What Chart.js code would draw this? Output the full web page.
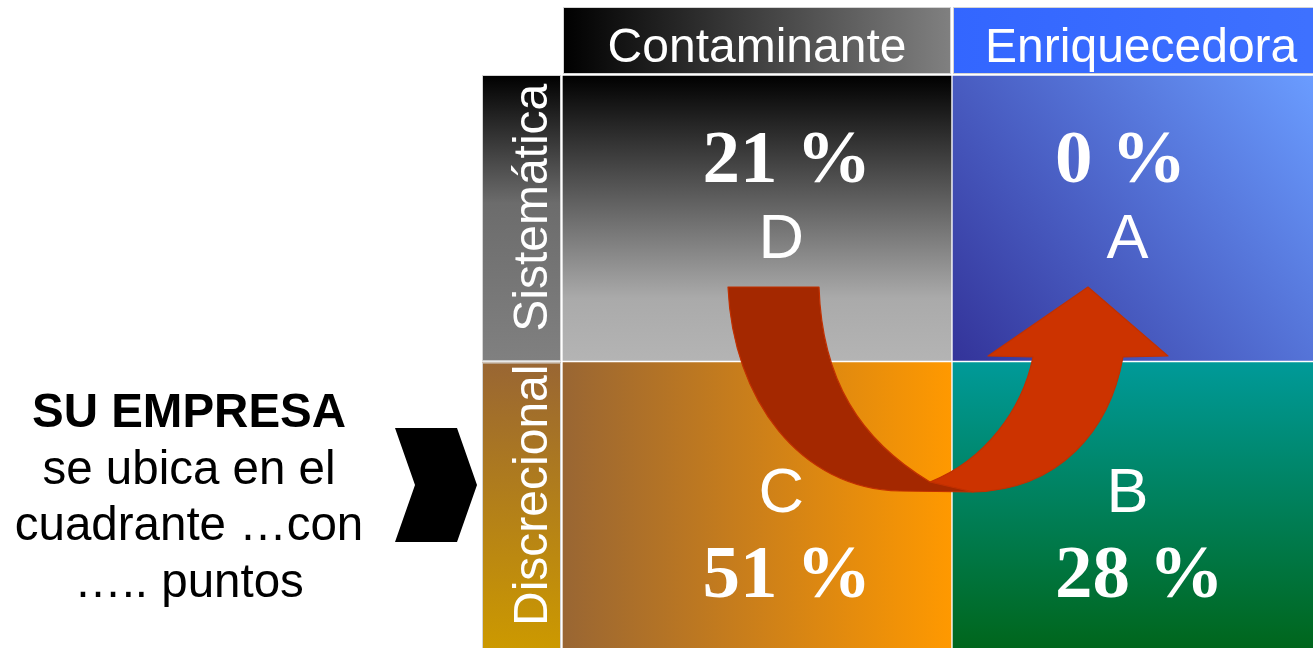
<!DOCTYPE html>
<html lang="es">
<head>
  <meta charset="UTF-8">
  <title>Cuadrante de la empresa</title>
  <script src="https://cdn.jsdelivr.net/npm/chart.js"></script>
  <style>
    html, body {
      margin: 0;
      padding: 0;
      background: #ffffff;
      overflow: hidden;
    }
    #wrap {
      position: relative;
      width: 1313px;
      height: 648px;
      overflow: hidden;
    }
    canvas {
      display: block;
    }
  </style>
</head>
<body>

  <div id="wrap"><canvas id="cuadrante" width="1342" height="648"></canvas></div>

  <script>
    // datos del cuadrante
    const columnas = ['Contaminante', 'Enriquecedora'];
    const filas = ['Sistemática', 'Discrecional'];
    const letras = ['D', 'A', 'C', 'B'];
    const porcentajes = [21, 0, 51, 28];
    const celdaCol = [0, 1, 0, 1];
    const celdaFila = [0, 0, 1, 1];
    const textoIzq = ['SU EMPRESA', 'se ubica en el', 'cuadrante …con', '….. puntos'];

    const SANS = "'Liberation Sans', Arial, sans-serif";
    const SERIF = "'Liberation Serif', 'Times New Roman', serif";

    // degradados de cada celda (estilo)
    const degradados = [
      { dir: 'v', stops: [[0, '#000000'], [0.78, '#aaaaaa'], [1, '#b4b4b4']] },
      { dir: 'd', stops: [[0, '#333399'], [1, '#6a9cff']] },
      { dir: 'h', stops: [[0, '#996633'], [1, '#ff9900']] },
      { dir: 'v', stops: [[0, '#009a99'], [1, '#00661c']] }
    ];
    const degradadoCol = [
      { dir: 'h', stops: [[0, '#000000'], [1, '#808080']] },
      { dir: 'h', stops: [[0, '#3366ff'], [1, '#3f72ff']] }
    ];
    const degradadoFila = [
      { dir: 'v', stops: [[0, '#000000'], [0.45, '#6c6c6c'], [1, '#808080']] },
      { dir: 'v', stops: [[0, '#996633'], [1, '#cc9900']] }
    ];

    // posiciones de los rotulos, en fraccion de la celda
    const posLetraX = [0.562, 0.45];
    const posLetraY = [0.361, 0.475];
    const posPorcX = [0.36, 0.264];
    const posPorcY = [0.627, 0.178];
    const posTituloX = [0.5, 0.485];

    function crearDegradado(ctx, d, l, t, r, b) {
      let g;
      if (d.dir === 'h') g = ctx.createLinearGradient(l, 0, r, 0);
      else if (d.dir === 'v') g = ctx.createLinearGradient(0, t, 0, b);
      else g = ctx.createLinearGradient(l, b, r - 30, t);
      d.stops.forEach(s => g.addColorStop(s[0], s[1]));
      return g;
    }

    function limitesCelda(chart, i) {
      const x = chart.scales.x, y = chart.scales.y;
      return {
        l: x.getPixelForValue(celdaCol[i]),
        r: x.getPixelForValue(celdaCol[i] + 1),
        t: y.getPixelForValue(2 - celdaFila[i]),
        b: y.getPixelForValue(1 - celdaFila[i])
      };
    }

    function fondoCelda(c) {
      const chart = c.chart;
      if (!chart.chartArea) return '#999999';
      const k = limitesCelda(chart, c.dataIndex);
      return crearDegradado(chart.ctx, degradados[c.dataIndex], k.l, k.t, k.r, k.b);
    }

    // flecha curva, en unidades de los ejes
    function dibujarFlecha(chart) {
      const ctx = chart.ctx;
      const x = chart.scales.x, y = chart.scales.y;
      const P = (a, b) => [x.getPixelForValue(a), y.getPixelForValue(b)];
      const mv = (a, b) => { const p = P(a, b); ctx.moveTo(p[0], p[1]); };
      const ln = (a, b) => { const p = P(a, b); ctx.lineTo(p[0], p[1]); };
      const bz = (a1, b1, a2, b2, a3, b3) => {
        const p1 = P(a1, b1), p2 = P(a2, b2), p3 = P(a3, b3);
        ctx.bezierCurveTo(p1[0], p1[1], p2[0], p2[1], p3[0], p3[1]);
      };

      ctx.save();
      ctx.lineJoin = 'round';
      ctx.lineWidth = 1.2;

      // tramo claro que sube
      ctx.beginPath();
      mv(0.9436, 0.5794);
      bz(1.0846, 0.6562, 1.1795, 0.8307, 1.2077, 1.0157);
      ln(1.0923, 1.0192);
      ln(1.3487, 1.2600);
      ln(1.5538, 1.0192);
      ln(1.4385, 1.0157);
      bz(1.4051, 0.7609, 1.2769, 0.5515, 1.0538, 0.5445);
      ctx.closePath();
      ctx.fillStyle = '#cc3300';
      ctx.fill();
      ctx.strokeStyle = '#c23000';
      ctx.stroke();

      // tramo oscuro que baja
      ctx.beginPath();
      mv(0.4256, 1.2600);
      bz(0.4385, 0.8656, 0.6103, 0.5550, 0.8667, 0.5480);
      ln(1.0538, 0.5445);
      ln(0.9436, 0.5794);
      bz(0.7641, 0.7260, 0.6667, 0.9354, 0.6590, 1.2600);
      ctx.closePath();
      ctx.fillStyle = '#a42800';
      ctx.fill();
      ctx.strokeStyle = '#c23000';
      ctx.stroke();
      ctx.restore();
    }

    const cuadrantePlugin = {
      id: 'cuadrante',
      beforeDatasetsDraw(chart) {
        const ctx = chart.ctx;
        const area = chart.chartArea;
        const x = chart.scales.x, y = chart.scales.y;
        ctx.save();

        // encabezados de columna
        const hTop = 7, hBot = area.top - 1;
        columnas.forEach((txt, c) => {
          const l = x.getPixelForValue(c) + 1, r = x.getPixelForValue(c + 1) - 1;
          ctx.fillStyle = crearDegradado(ctx, degradadoCol[c], l, hTop, r, hBot);
          ctx.fillRect(l, hTop, r - l, hBot - hTop);
          ctx.strokeStyle = '#d4d4d4';
          ctx.lineWidth = 1;
          ctx.strokeRect(l + 0.5, hTop + 0.5, r - l - 1, hBot - hTop - 1);
          ctx.fillStyle = '#ffffff';
          ctx.font = '48px ' + SANS;
          ctx.textAlign = 'center';
          ctx.textBaseline = 'alphabetic';
          ctx.fillText(txt, l + (r - l) * posTituloX[c], 62);
        });

        // encabezados de fila
        const vl = 482, vr = area.left - 1;
        filas.forEach((txt, f) => {
          const t = y.getPixelForValue(2 - f) + (f === 0 ? 0 : 1);
          const b = f === 1 ? area.bottom : y.getPixelForValue(1 - f) - 1;
          ctx.fillStyle = crearDegradado(ctx, degradadoFila[f], vl, t, vr, b);
          ctx.fillRect(vl, t, vr - vl, b - t);
          ctx.strokeStyle = '#d4d4d4';
          ctx.lineWidth = 1;
          ctx.strokeRect(vl + 0.5, t + 0.5, vr - vl - 1, b - t);
          ctx.save();
          ctx.translate(547, (t + b) / 2 - 10);
          ctx.rotate(-Math.PI / 2);
          ctx.fillStyle = '#ffffff';
          ctx.font = '48px ' + SANS;
          ctx.textAlign = 'center';
          ctx.textBaseline = 'alphabetic';
          ctx.fillText(txt, 0, 0);
          ctx.restore();
        });

        // texto de la izquierda
        ctx.fillStyle = '#000000';
        ctx.textAlign = 'center';
        ctx.textBaseline = 'alphabetic';
        textoIzq.forEach((txt, i) => {
          ctx.font = (i === 0 ? 'bold ' : '') + '47.5px ' + SANS;
          ctx.fillText(txt, 189, 427 + i * 56.7);
        });

        // chevron negro
        const cx = area.left;
        ctx.beginPath();
        ctx.moveTo(cx - 167, 428);
        ctx.lineTo(cx - 105, 428);
        ctx.lineTo(cx - 85, 485);
        ctx.lineTo(cx - 105, 542);
        ctx.lineTo(cx - 167, 542);
        ctx.lineTo(cx - 147, 485);
        ctx.closePath();
        ctx.fillStyle = '#000000';
        ctx.fill();

        ctx.restore();
      },
      afterDatasetsDraw(chart) {
        const ctx = chart.ctx;
        ctx.save();
        ctx.fillStyle = '#ffffff';
        ctx.textBaseline = 'alphabetic';
        letras.forEach((letra, i) => {
          const k = limitesCelda(chart, i);
          const w = k.r - k.l, h = k.b - k.t;
          const c = celdaCol[i], f = celdaFila[i];
          ctx.font = 'bold 75px ' + SERIF;
          ctx.textAlign = 'left';
          ctx.fillText(porcentajes[i] + ' %', k.l + w * posPorcX[c], k.b - h * posPorcY[f]);
          ctx.font = '63px ' + SANS;
          ctx.textAlign = 'center';
          ctx.fillText(letra, k.l + w * posLetraX[c], k.b - h * posLetraY[f]);
        });
        ctx.restore();
        dibujarFlecha(chart);
      }
    };

    const ctx = document.getElementById('cuadrante').getContext('2d');
    const chart = new Chart(ctx, {
      type: 'bar',
      data: {
        datasets: [{
          label: 'Cuadrantes',
          data: letras.map((l, i) => ({ x: celdaCol[i] + 0.5, y: [1 - celdaFila[i], 2 - celdaFila[i]] })),
          backgroundColor: fondoCelda,
          borderColor: '#ffffff',
          borderWidth: c => ({ top: 1, left: 1, right: 1, bottom: celdaFila[c.dataIndex] === 1 ? 0 : 1 }),
          borderSkipped: false,
          barPercentage: 1,
          categoryPercentage: 1
        }]
      },
      options: {
        responsive: false,
        animation: false,
        events: [],
        layout: { padding: { left: 562, top: 75, right: 0, bottom: 0 } },
        plugins: {
          legend: { display: false },
          tooltip: { enabled: false }
        },
        scales: {
          x: { type: 'linear', min: 0, max: 2, offset: false, display: false, ticks: { stepSize: 1 } },
          y: { type: 'linear', min: 0, max: 2, display: false, ticks: { stepSize: 1 } }
        }
      },
      plugins: [cuadrantePlugin]
    });
  </script>
</body>
</html>
